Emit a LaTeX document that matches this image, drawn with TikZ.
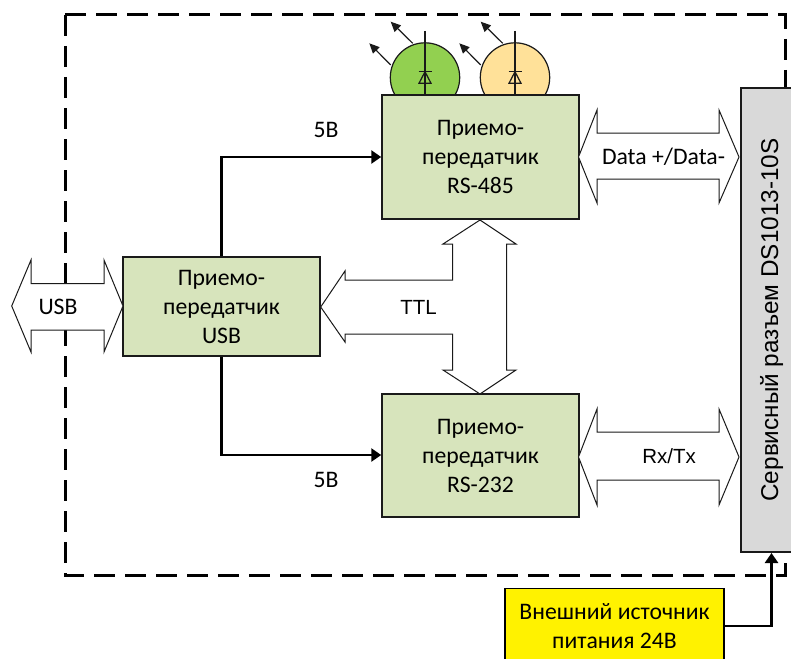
\documentclass[tikz,border=0pt]{standalone}
\usepackage{fontspec}
\setmainfont{Carlito}
\newfontfamily\arialf{Liberation Sans}
\usetikzlibrary{arrows.meta,calc}
\definecolor{boxgreen}{HTML}{D7E4BC}
\definecolor{greygreen}{HTML}{D9D9D9}
\definecolor{ledgreen}{HTML}{92D050}
\definecolor{ledyellow}{HTML}{FFE199}
\definecolor{lineblack}{HTML}{1A1A1A}
\tikzset{
  frame/.style={line width=3pt,dash pattern=on 21pt off 10pt,draw=black},
  block/.style={draw=lineblack,line width=1.5pt,fill=boxgreen,minimum width=197pt,inner sep=0pt,align=center,font=\fontsize{23.7}{29}\selectfont},
  fat/.style={draw=lineblack,line width=1pt,fill=white,line join=miter},
  power/.style={line width=2.5pt,-{Triangle[length=10pt,width=13pt]},draw=black},
  led/.style={draw=lineblack,line width=1.2pt},
  ray/.style={line width=1.2pt,draw=lineblack,-{Triangle[length=10pt,width=9pt]}},
  lab/.style={font=\fontsize{23.7}{24}\selectfont,inner sep=0pt},
  arlab/.style={font=\arialf\fontsize{20.5}{24}\selectfont,inner sep=0pt},
}
\begin{document}
\begin{tikzpicture}[x=1pt,y=-1pt]
\clip (0,0) rectangle (791,658);
\fill[white] (0,0) rectangle (791,658);
% dashed frame
\draw[frame] (65,15) -- (65,575) -- (785,575) -- (785,540);
\draw[frame] (65,15) -- (785,15) -- (785,100);
% LEDs
\filldraw[led,fill=ledgreen] (425,77.5) circle (34.7);
\filldraw[led,fill=ledyellow] (515,77.5) circle (34.7);
\foreach \cx in {425,515}{
  \draw[led] (\cx,31) -- (\cx,95);
  \draw[led] (\cx-6.5,71.7) -- (\cx+6.5,71.7);
  \draw[led] (\cx,71.7) -- (\cx-6,83.3) -- (\cx+6,83.3) -- cycle;
  \draw[ray] (\cx-34.3,65) -- (\cx-55.7,43.3);
  \draw[ray] (\cx-12.3,43.3) -- (\cx-34.3,21.7);
}
% blocks
\node[block,minimum height=99pt] (usb) at (221.5,306.5) {Приемо-\\передатчик\\USB};
\node[block,minimum height=124pt] (rsf) at (480.5,157) {Приемо-\\передатчик\\RS-485};
\node[block,minimum height=123pt] (rst) at (480.5,455.5) {Приемо-\\передатчик\\RS-232};
\node[draw=lineblack,line width=1.2pt,fill=greygreen,minimum width=60pt,minimum height=464pt,inner sep=0pt] (serv) at (771,320) {};
\node[arlab,font=\arialf\fontsize{24.3}{24}\selectfont,rotate=90] (servt) at (771.5,320) {Сервисный разъем DS1013-10S};
\node[draw=black,line width=1.5pt,fill=yellow,minimum width=219pt,minimum height=75pt,inner sep=0pt,align=center,font=\fontsize{23.7}{29}\selectfont] (ext) at (614.5,626) {Внешний источник\\питания 24В};
% fat arrows
\draw[fat] (11.7,306) -- (31,260) -- (31,283.5) -- (104,283.5) -- (104,260) -- (123,306) -- (104,352) -- (104,330) -- (31,330) -- (31,352) -- cycle;
\draw[fat] (578.5,157) -- (597,110) -- (597,133) -- (719,133) -- (719,110) -- (739,157) -- (719,203) -- (719,179) -- (597,179) -- (597,203) -- cycle;
\draw[fat] (578.5,457) -- (597,409) -- (597,432) -- (719,432) -- (719,409) -- (739,457) -- (719,505) -- (719,480) -- (597,480) -- (597,505) -- cycle;
\draw[fat] (320.7,307) -- (345,271) -- (345,280) -- (452.5,280) -- (452.5,244) -- (443,244) -- (480,220) -- (516,244) -- (506.5,244) -- (506.5,370) -- (516,370) -- (480,394) -- (443,370) -- (452.5,370) -- (452.5,334) -- (345,334) -- (345,342) -- cycle;
% labels
\node[lab] (lusb) at (58,307) {USB};
\node[lab] (ldata) at (663.5,157) {Data +/Data-};
\node[arlab] (lrx) at (669,456) {Rx/Tx};
\node[arlab] (lttl) at (418.5,307) {TTL};
\node[lab] (l5a) at (326,130) {5В};
\node[lab] (l5b) at (326,480) {5В};
% power connectors
\draw[power] (usb.north) |- (rsf.west);
\draw[power] (usb.south) |- ($(rst.west)+(0,-0.5)$);
\coordinate (servin) at (771.5,553);
\draw[power] (ext.east) -| (servin);
\end{tikzpicture}
\end{document}
